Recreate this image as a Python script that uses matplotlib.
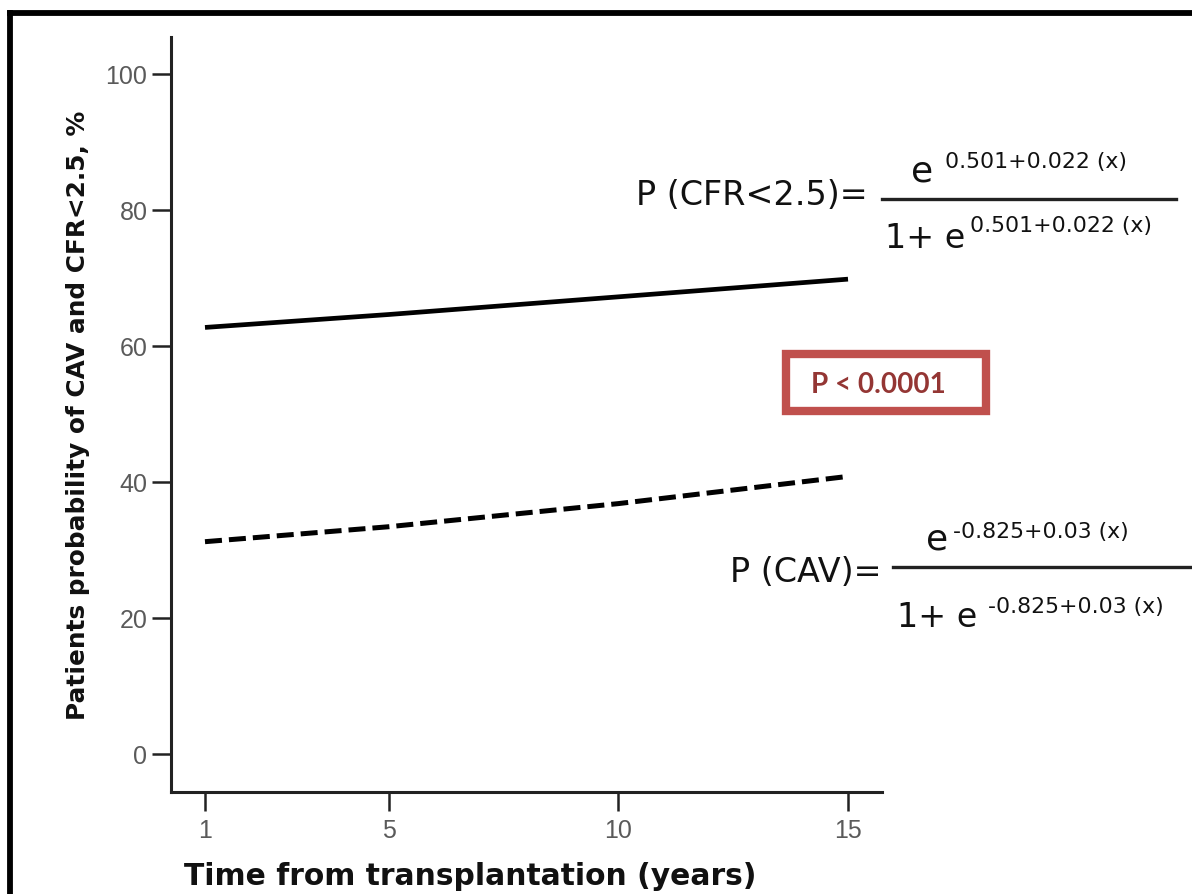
import matplotlib
matplotlib.use("Agg")
import matplotlib.pyplot as plt
from matplotlib.lines import Line2D
from matplotlib.patches import Rectangle

# values
years = [1, 5, 10, 15]
cfr_prob = [62.7, 64.6, 67.2, 69.8]   # P(CFR<2.5), solid
cav_prob = [31.2, 33.4, 36.8, 40.8]   # P(CAV), dashed
x_ticks = [1, 5, 10, 15]
y_ticks = [0, 20, 40, 60, 80, 100]

W, H = 1192, 895
fig = plt.figure(figsize=(W / 100, H / 100), dpi=100)
sans = ["DejaVu Sans"]


def px(x, y):
    # pixel position (from top-left) -> figure fraction
    return x / W, 1 - y / H


ax = fig.add_axes([171 / W, 1 - 793 / H, (882 - 171) / W, (793 - 38) / H])
ax.plot(years, cfr_prob, color="black", lw=3.4, solid_capstyle="butt")
ax.plot(years, cav_prob, color="black", lw=3.6, dashes=(3.4, 1.4))

ax.set_xlim(0.26, 15.74)
ax.set_ylim(-5.6, 105.4)
ax.set_xticks(x_ticks)
ax.set_yticks(y_ticks)
for s in ["top", "right"]:
    ax.spines[s].set_visible(False)
for s in ["left", "bottom"]:
    ax.spines[s].set_linewidth(2.2)
    ax.spines[s].set_color("#222222")
ax.tick_params(length=14, width=1.8, color="#222222", labelcolor="#5a5a5a",
               labelsize=18)
ax.tick_params(axis="y", pad=3)
ax.tick_params(axis="x", pad=5)
for lab in ax.get_xticklabels() + ax.get_yticklabels():
    lab.set_family(["Liberation Sans Narrow", "Liberation Sans"])

fig.text(*px(78, 415), "Patients probability of CAV and CFR<2.5, %",
         rotation=90, ha="center", va="center", fontsize=17.8,
         fontweight="bold", color="#111111", family=sans)
fig.text(*px(470, 885), "Time from transplantation (years)", ha="center",
         va="baseline", fontsize=21.4, fontweight="bold", color="#111111",
         family=sans)

# formulas
fs_big, fs_sup = 24, 15.8
kw = dict(va="baseline", family=sans, color="#111111")
fig.text(*px(868, 205), "P (CFR<2.5)=", ha="right", fontsize=fs_big, **kw)
fig.add_artist(Line2D([882 / W, 1176 / W], [1 - 200 / H] * 2, color="#222222", lw=2.4))
fig.text(*px(911, 182), "e", ha="left", fontsize=fs_big + 2, **kw)
fig.text(*px(945, 168), "0.501+0.022 (x)", ha="left", fontsize=fs_sup, **kw)
fig.text(*px(885, 248), "1+ e", ha="left", fontsize=fs_big, **kw)
fig.text(*px(970, 232), "0.501+0.022 (x)", ha="left", fontsize=fs_sup, **kw)

fig.text(*px(882, 582), "P (CAV)=", ha="right", fontsize=fs_big, **kw)
fig.add_artist(Line2D([893 / W, 1190 / W], [1 - 568 / H] * 2, color="#222222", lw=2.4))
fig.text(*px(926, 550), "e", ha="left", fontsize=fs_big + 2, **kw)
fig.text(*px(953, 538), "-0.825+0.03 (x)", ha="left", fontsize=fs_sup, **kw)
fig.text(*px(897, 627), "1+ e", ha="left", fontsize=fs_big, **kw)
fig.text(*px(988, 613), "-0.825+0.03 (x)", ha="left", fontsize=fs_sup, **kw)

# p-value box
fig.add_artist(Rectangle(px(786, 412), 200 / W, 57 / H, fill=False,
                         edgecolor="#C0504D", lw=6))
fig.text(*px(878, 385), "P < 0.0001", ha="center", va="center", fontsize=20,
         fontweight="bold", color="#943634", family=["Lato", "DejaVu Sans"])

# outer frame (cut off at right and bottom)
fig.add_artist(Line2D([9.5 / W, 1.0], [1 - 14 / H] * 2, color="black", lw=4.2))
fig.add_artist(Line2D([9.5 / W] * 2, [0, 1 - 14 / H], color="black", lw=4.2))

fig.savefig("out.png", dpi=100)
